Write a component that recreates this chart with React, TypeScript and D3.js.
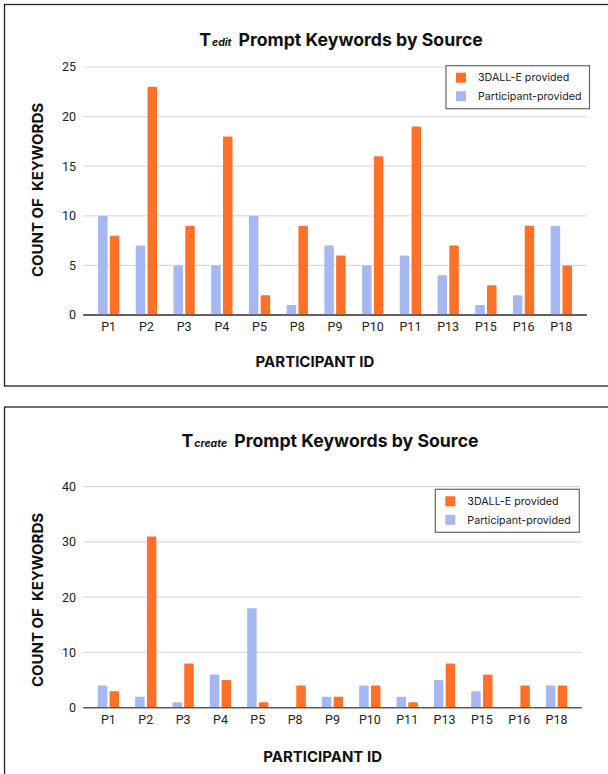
import React from "react";
import * as d3 from "d3";

const participants = ["P1", "P2", "P3", "P4", "P5", "P8", "P9", "P10", "P11", "P13", "P15", "P16", "P18"];
const editParticipant = [10, 7, 5, 5, 10, 1, 7, 5, 6, 4, 1, 2, 9];
const editDalle = [8, 23, 9, 18, 2, 9, 6, 16, 19, 7, 3, 9, 5];
const createParticipant = [4, 2, 1, 6, 18, 0, 2, 4, 2, 5, 3, 0, 4];
const createDalle = [3, 31, 8, 5, 1, 4, 2, 4, 1, 8, 6, 4, 4];
const editTicks = [0, 5, 10, 15, 20, 25];
const createTicks = [0, 10, 20, 30, 40];
const seriesNames = ["3DALL-E provided", "Participant-provided"];

const ORANGE = "#ff7029";
const BLUE = "#a6b8f1";
const FONT = "Inter, Roboto, sans-serif";

type ChartProps = {
  titleY: number;
  sub: string;
  titleX: number;
  yMax: number;
  ticks: number[];
  dalle: number[];
  part: number[];
  x0: number;
  x1: number;
  yTop: number;
  yBottom: number;
  legendX: number;
  legendY: number;
  legendW: number;
  xTitleX: number;
  xLabelY: number;
  xTitleY: number;
  yTitleY: number;
};

function Chart(p: ChartProps) {
  const x = d3.scalePoint<string>().domain(participants).range([p.x0, p.x1]).padding(0.673);
  const y = d3.scaleLinear().domain([0, p.yMax]).range([p.yBottom, p.yTop]);
  const bw = 9.5;
  const gap = 2.3;
  return (
    <g>
      <text x={p.titleX} y={p.titleY} textAnchor="middle" fontFamily={FONT} fontWeight="bold" fill="#111">
        <tspan fontSize={17.7}>T</tspan>
        <tspan fontSize={10.5} fontStyle="italic" dx={1}>{p.sub}</tspan>
        <tspan fontSize={17.7} dx={7}>Prompt Keywords by Source</tspan>
      </text>
      {p.ticks.map((t) => (
        <g key={t}>
          <line x1={p.x0} x2={p.x1} y1={y(t)} y2={y(t)} stroke={t === 0 ? "#555" : "#dcdcdc"} strokeWidth={t === 0 ? 1.3 : 1.2} />
          <text x={76} y={y(t)} dy="0.35em" textAnchor="end" fontFamily="Roboto, sans-serif" fontSize={12.5} fill="#222">
            {t}
          </text>
        </g>
      ))}
      {participants.map((c, i) => {
        const cx = x(c) as number;
        const hp = p.yBottom - y(p.part[i]);
        const hd = p.yBottom - y(p.dalle[i]);
        return (
          <g key={c}>
            {hp > 0 && (
              <rect x={cx - gap / 2 - bw} y={y(p.part[i])} width={bw} height={hp} rx={1.2} fill={BLUE} />
            )}
            {hd > 0 && (
              <rect x={cx + gap / 2} y={y(p.dalle[i])} width={bw} height={hd} rx={1.2} fill={ORANGE} />
            )}
            <text x={cx} y={p.xLabelY} dy="0.35em" textAnchor="middle" fontFamily="Roboto, sans-serif" fontSize={12.5} fill="#222">
              {c}
            </text>
          </g>
        );
      })}
      <line x1={p.x0} x2={p.x1} y1={p.yBottom} y2={p.yBottom} stroke="#555" strokeWidth={1.3} />
      <text x={p.xTitleX} y={p.xTitleY} dy="0.35em" textAnchor="middle" fontFamily={FONT} fontWeight="bold" fontSize={15} fill="#111">
        PARTICIPANT ID
      </text>
      <text
        transform={`translate(38,${p.yTitleY}) rotate(-90)`}
        dy="0.35em"
        textAnchor="middle"
        fontFamily={FONT}
        fontWeight="bold"
        fontSize={15}
        fill="#111"
        style={{ whiteSpace: "pre" }}
      >
        COUNT OF  KEYWORDS
      </text>
      <g transform={`translate(${p.legendX},${p.legendY})`}>
        <rect x={0} y={0} width={p.legendW} height={43} fill="#fff" stroke="#666" strokeWidth={1.2} />
        {seriesNames.map((s, i) => (
          <g key={s} transform={`translate(0,${12 + i * 18.5})`}>
            <rect x={10} y={-5} width={10} height={10} fill={i === 0 ? ORANGE : BLUE} />
            <text x={32} y={0} dy="0.35em" fontFamily={FONT} fontSize={10.7} fill="#222">
              {s}
            </text>
          </g>
        ))}
      </g>
    </g>
  );
}

export default function App() {
  return (
    <svg width={608} height={774} style={{ position: "absolute", left: 0, top: 0, background: "#fff" }}>
      <rect x={0} y={0} width={608} height={774} fill="#fff" />
      <rect x={4.5} y={4.5} width={620} height={381.5} fill="none" stroke="#222" strokeWidth={1.3} />
      <rect x={4.5} y={407} width={620} height={400} fill="none" stroke="#222" strokeWidth={1.3} />
      <Chart
        titleY={46}
        sub="edit"
        titleX={341}
        yMax={25}
        ticks={editTicks}
        dalle={editDalle}
        part={editParticipant}
        x0={83.3}
        x1={586.7}
        yTop={67}
        yBottom={315}
        legendX={446}
        legendY={65.7}
        legendW={143.5}
        xTitleX={315}
        xLabelY={327}
        xTitleY={362}
        yTitleY={190}
      />
      <Chart
        titleY={447}
        sub="create"
        titleX={330}
        yMax={40}
        ticks={createTicks}
        dalle={createDalle}
        part={createParticipant}
        x0={83.3}
        x1={581.7}
        yTop={486.7}
        yBottom={707.7}
        legendX={435.3}
        legendY={489.3}
        legendW={144}
        xTitleX={322.6}
        xLabelY={720}
        xTitleY={757}
        yTitleY={600}
      />
    </svg>
  );
}
